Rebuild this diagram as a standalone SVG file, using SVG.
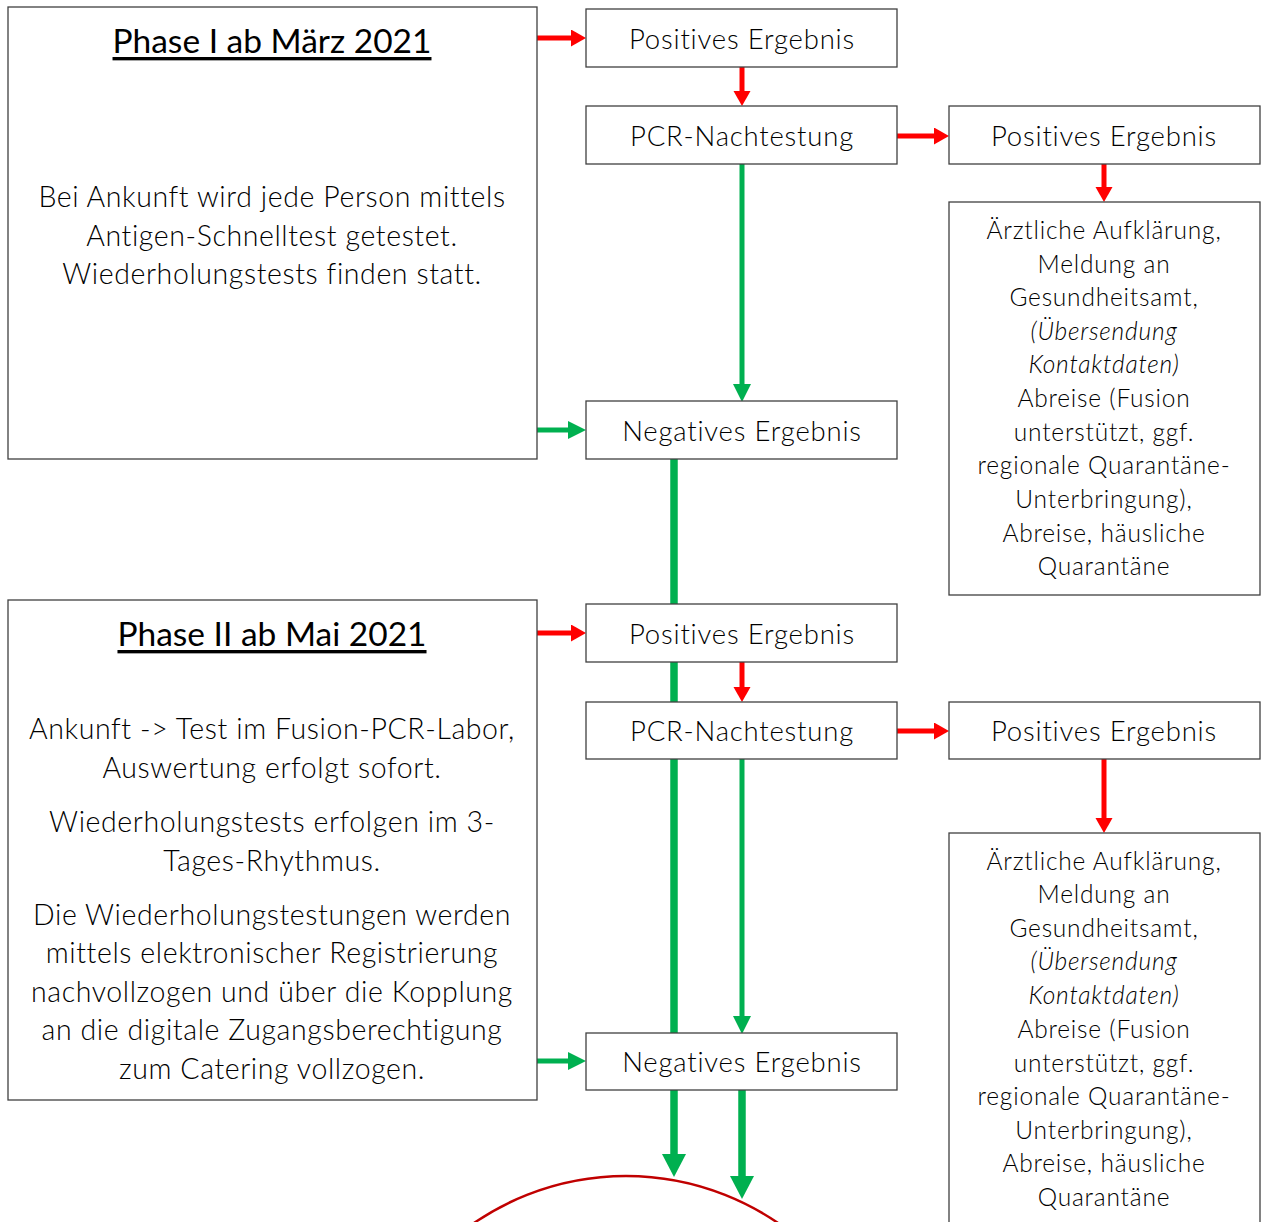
<svg xmlns="http://www.w3.org/2000/svg" width="1267" height="1222" viewBox="0 0 1267 1222">
<defs>
<style>
.box{fill:#fff;stroke:#404040;stroke-width:1.3}
.t{font-family:Lato,"Open Sans","Liberation Sans",sans-serif;font-weight:300;fill:#000;text-anchor:middle;dominant-baseline:central}
.lbl{font-size:27.5px;letter-spacing:0.8px}
.body{font-size:28.5px;letter-spacing:0.6px}
.small{font-size:24.5px;letter-spacing:0.8px}
.title{font-family:Lato,"Liberation Sans",sans-serif;font-weight:400;font-size:33.5px;text-decoration:underline;fill:#000;text-anchor:middle;dominant-baseline:central}
.red{stroke:#FF0000;stroke-width:5;fill:none}
.grn{stroke:#00B050;stroke-width:5;fill:none}
.grnT{stroke:#00B050;stroke-width:7.5;fill:none}
</style>
<marker id="rh" markerUnits="userSpaceOnUse" markerWidth="16" markerHeight="18" refX="0" refY="8.5" orient="auto"><path d="M0,0 L15,8.5 L0,17 z" fill="#FF0000"/></marker>
<marker id="gh" markerUnits="userSpaceOnUse" markerWidth="19" markerHeight="19" refX="0" refY="9" orient="auto"><path d="M0,0 L18,9 L0,18 z" fill="#00B050"/></marker>
<marker id="gb" markerUnits="userSpaceOnUse" markerWidth="24" markerHeight="25" refX="0" refY="12" orient="auto"><path d="M0,0 L23,12 L0,24 z" fill="#00B050"/></marker>
</defs>
<rect width="1267" height="1222" fill="#fff"/>
<g id="connectors">
<line class="red" x1="537" y1="38" x2="571" y2="38" marker-end="url(#rh)"/>
<line class="red" x1="742" y1="67" x2="742" y2="91" marker-end="url(#rh)"/>
<line class="red" x1="897" y1="136" x2="934" y2="136" marker-end="url(#rh)"/>
<line class="red" x1="1104" y1="164" x2="1104" y2="187" marker-end="url(#rh)"/>
<line class="grn" x1="742" y1="164" x2="742" y2="384" marker-end="url(#gh)"/>
<line class="grn" x1="537" y1="430" x2="568" y2="430" marker-end="url(#gh)"/>
<line class="grnT" x1="674" y1="459" x2="674" y2="1154" marker-end="url(#gb)"/>
<line class="red" x1="537" y1="633" x2="571" y2="633" marker-end="url(#rh)"/>
<line class="red" x1="742" y1="662" x2="742" y2="687" marker-end="url(#rh)"/>
<line class="red" x1="897" y1="731" x2="934" y2="731" marker-end="url(#rh)"/>
<line class="red" x1="1104" y1="759" x2="1104" y2="818" marker-end="url(#rh)"/>
<line class="grn" x1="742" y1="759" x2="742" y2="1016" marker-end="url(#gh)"/>
<line class="grn" x1="537" y1="1061" x2="568" y2="1061" marker-end="url(#gh)"/>
<line class="grnT" x1="742" y1="1090" x2="742" y2="1176" marker-end="url(#gb)"/>
</g>
<g id="phase1">
<rect class="box" x="8" y="7" width="529" height="452"/>
<text class="title" x="272" y="40">Phase I ab März 2021</text>
<text class="t body" x="272" y="196">Bei Ankunft wird jede Person mittels</text>
<text class="t body" x="272" y="235">Antigen-Schnelltest getestet.</text>
<text class="t body" x="272" y="273">Wiederholungstests finden statt.</text>
</g>
<g id="pos1">
<rect class="box" x="586" y="9" width="311" height="58"/>
<text class="t lbl" x="742" y="38">Positives Ergebnis</text>
</g>
<g id="pcr1">
<rect class="box" x="586" y="106" width="311" height="58"/>
<text class="t lbl" x="742" y="135">PCR-Nachtestung</text>
</g>
<g id="posR1">
<rect class="box" x="949" y="106" width="311" height="58"/>
<text class="t lbl" x="1104" y="135">Positives Ergebnis</text>
</g>
<g id="info1">
<rect class="box" x="949" y="202" width="311" height="393"/>
<text class="t small" x="1104" y="229">Ärztliche Aufklärung,</text>
<text class="t small" x="1104" y="263">Meldung an</text>
<text class="t small" x="1104" y="296">Gesundheitsamt,</text>
<text class="t small" x="1104" y="330" font-style="italic">(Übersendung</text>
<text class="t small" x="1104" y="363" font-style="italic">Kontaktdaten)</text>
<text class="t small" x="1104" y="397">Abreise (Fusion</text>
<text class="t small" x="1104" y="431">unterstützt, ggf.</text>
<text class="t small" x="1104" y="464">regionale Quarantäne-</text>
<text class="t small" x="1104" y="498">Unterbringung),</text>
<text class="t small" x="1104" y="532">Abreise, häusliche</text>
<text class="t small" x="1104" y="565">Quarantäne</text>
</g>
<g id="neg1">
<rect class="box" x="586" y="401" width="311" height="58"/>
<text class="t lbl" x="742" y="430">Negatives Ergebnis</text>
</g>
<g id="phase2">
<rect class="box" x="8" y="600" width="529" height="500"/>
<text class="title" x="272" y="633">Phase II ab Mai 2021</text>
<text class="t body" x="272" y="728">Ankunft -&gt; Test im Fusion-PCR-Labor,</text>
<text class="t body" x="272" y="767">Auswertung erfolgt sofort.</text>
<text class="t body" x="272" y="821">Wiederholungstests erfolgen im 3-</text>
<text class="t body" x="272" y="860">Tages-Rhythmus.</text>
<text class="t body" x="272" y="914">Die Wiederholungstestungen werden</text>
<text class="t body" x="272" y="952">mittels elektronischer Registrierung</text>
<text class="t body" x="272" y="991">nachvollzogen und über die Kopplung</text>
<text class="t body" x="272" y="1029">an die digitale Zugangsberechtigung</text>
<text class="t body" x="272" y="1068">zum Catering vollzogen.</text>
</g>
<g id="pos2">
<rect class="box" x="586" y="604" width="311" height="58"/>
<text class="t lbl" x="742" y="633">Positives Ergebnis</text>
</g>
<g id="pcr2">
<rect class="box" x="586" y="702" width="311" height="57"/>
<text class="t lbl" x="742" y="730">PCR-Nachtestung</text>
</g>
<g id="posR2">
<rect class="box" x="949" y="702" width="311" height="57"/>
<text class="t lbl" x="1104" y="730">Positives Ergebnis</text>
</g>
<g id="info2">
<rect class="box" x="949" y="833" width="311" height="400"/>
<text class="t small" x="1104" y="860">Ärztliche Aufklärung,</text>
<text class="t small" x="1104" y="893">Meldung an</text>
<text class="t small" x="1104" y="927">Gesundheitsamt,</text>
<text class="t small" x="1104" y="960" font-style="italic">(Übersendung</text>
<text class="t small" x="1104" y="994" font-style="italic">Kontaktdaten)</text>
<text class="t small" x="1104" y="1028">Abreise (Fusion</text>
<text class="t small" x="1104" y="1062">unterstützt, ggf.</text>
<text class="t small" x="1104" y="1095">regionale Quarantäne-</text>
<text class="t small" x="1104" y="1129">Unterbringung),</text>
<text class="t small" x="1104" y="1162">Abreise, häusliche</text>
<text class="t small" x="1104" y="1196">Quarantäne</text>
</g>
<g id="neg2">
<rect class="box" x="586" y="1033" width="311" height="57"/>
<text class="t lbl" x="742" y="1061">Negatives Ergebnis</text>
</g>
<g id="arc">
<circle cx="626" cy="1445" r="269" fill="none" stroke="#C00000" stroke-width="2.5"/>
</g>
</svg>
